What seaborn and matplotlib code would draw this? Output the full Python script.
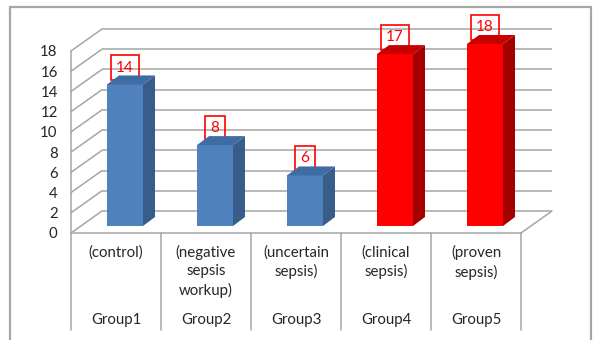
import numpy as np
import pandas as pd
import matplotlib
matplotlib.use("Agg")
import matplotlib.pyplot as plt
import seaborn as sns
from matplotlib.patches import Polygon, Rectangle
from matplotlib.lines import Line2D

# ---------------- data ----------------
categories = ["Group1", "Group2", "Group3", "Group4", "Group5"]
descriptions = ["(control)", "(negative\nsepsis\nworkup)", "(uncertain\nsepsis)",
                "(clinical\nsepsis)", "(proven\nsepsis)"]
values = [14, 8, 5, 17, 18]
value_labels = ["14", "8", "6", "17", "18"]
yticks = [0, 2, 4, 6, 8, 10, 12, 14, 16, 18]

# ---------------- style ----------------
front_colors = ["#4F81BD", "#4F81BD", "#4F81BD", "#FF0000", "#FF0000"]
side_colors = ["#385D8A", "#385D8A", "#385D8A", "#A50000", "#A50000"]
top_colors = ["#3E6CA3", "#3E6CA3", "#3E6CA3", "#C80000", "#C80000"]
grid_color = "#A6A6A6"
text_color = "#262626"

sns.set_style("white")
plt.rcParams["font.family"] = ["Lato", "DejaVu Sans"]

W, H = 596, 340
fig = plt.figure(figsize=(W / 100, H / 100), dpi=100)
fig.patch.set_facecolor("white")


def px_axes(left, bottom_from_top, w, h):
    return fig.add_axes([left / W, (H - bottom_from_top) / H, w / W, h / H])


AX_H = 182
ax_back = px_axes(102, 211, 450, AX_H)
ax_front = px_axes(71, 233, 450, AX_H)
ax = px_axes(80, 226, 450, AX_H)

for a in (ax_back, ax_front, ax):
    a.set_xlim(-0.5, 4.5)
    a.set_ylim(0, 18)
    a.patch.set_visible(False)

# back wall gridlines
ax_back.hlines(yticks, -0.5, 4.5, colors=grid_color, lw=1.1, clip_on=False)
ax_back.set_xticks([])
ax_back.set_yticks([])
for s in ax_back.spines.values():
    s.set_visible(False)

# front axis
for name, s in ax_front.spines.items():
    if name in ("left", "bottom"):
        s.set_visible(True)
        s.set_color(grid_color)
        s.set_linewidth(1.1)
    else:
        s.set_visible(False)
ax_front.set_xticks([])
ax_front.set_yticks(yticks)
ax_front.set_yticklabels([str(t) for t in yticks])
ax_front.tick_params(axis="y", direction="out", length=3.6, width=1.0,
                     color=grid_color, labelsize=10.8, labelcolor=text_color, pad=6)

# side wall diagonals
inv = fig.transFigure.inverted()


def fig_line(p0, p1):
    a0 = inv.transform(p0)
    a1 = inv.transform(p1)
    fig.add_artist(Line2D([a0[0], a1[0]], [a0[1], a1[1]], color=grid_color, lw=1.1,
                          transform=fig.transFigure))


for y in yticks:
    fig_line(ax_front.transData.transform((-0.5, y)), ax_back.transData.transform((-0.5, y)))
fig_line(ax_front.transData.transform((4.5, 0)), ax_back.transData.transform((4.5, 0)))

# bars
df = pd.DataFrame({"category": categories, "value": values})
sns.barplot(data=df, x="category", y="value", hue="category", palette=front_colors,
            width=0.4, saturation=1, legend=False, ax=ax, linewidth=0)
ax.set_xlim(-0.5, 4.5)
ax.set_ylim(0, 18)
ax.set_xticks([])
ax.set_yticks([])
ax.set_xlabel("")
ax.set_ylabel("")
for s in ax.spines.values():
    s.set_visible(False)

DX, DY = 12, 9
bars = sorted([p for p in ax.patches if p.get_height() > 0], key=lambda p: p.get_x())
for i, p in enumerate(bars):
    x0, y0 = ax.transData.transform((p.get_x(), 0))
    x1, y1 = ax.transData.transform((p.get_x() + p.get_width(), p.get_height()))
    side = [(x1, y0), (x1 + DX, y0 + DY), (x1 + DX, y1 + DY), (x1, y1)]
    top = [(x0, y1), (x0 + DX, y1 + DY), (x1 + DX, y1 + DY), (x1, y1)]
    for pts, c in ((side, side_colors[i]), (top, top_colors[i])):
        fig.add_artist(Polygon(inv.transform(np.array(pts)), closed=True, fc=c, ec="none",
                               transform=fig.transFigure))

# value labels
for i, (v, lab) in enumerate(zip(values, value_labels)):
    ax.annotate(lab, (i, v), xytext=(0, 12.2), textcoords="offset points",
                ha="center", va="center", color="#FF0000", fontsize=11, zorder=10,
                bbox=dict(boxstyle="square,pad=0.36", fc="none", ec="#FF0000", lw=1.2))

# category table
xt = ax_front.get_xaxis_transform()
for b in np.arange(-0.5, 5.0, 1.0):
    ax_front.plot([b, b], [0, -97 / AX_H], transform=xt, color=grid_color, lw=1.1,
                  clip_on=False)
for i, (d, c) in enumerate(zip(descriptions, categories)):
    ax_front.text(i, -12 / AX_H, d, transform=xt, ha="center", va="top",
                  fontsize=10.8, color=text_color, linespacing=1.38)
    ax_front.text(i, -87 / AX_H, c, transform=xt, ha="center", va="center",
                  fontsize=10.8, color=text_color)

# outer border (open at bottom, cut by the image edge)
fig.add_artist(Rectangle((10 / W, -0.05), 581 / W, (H - 7) / H + 0.05, fill=False,
                         ec="#A6A6A6", lw=1.6, transform=fig.transFigure))

fig.savefig("out.png", dpi=100, facecolor="white")
